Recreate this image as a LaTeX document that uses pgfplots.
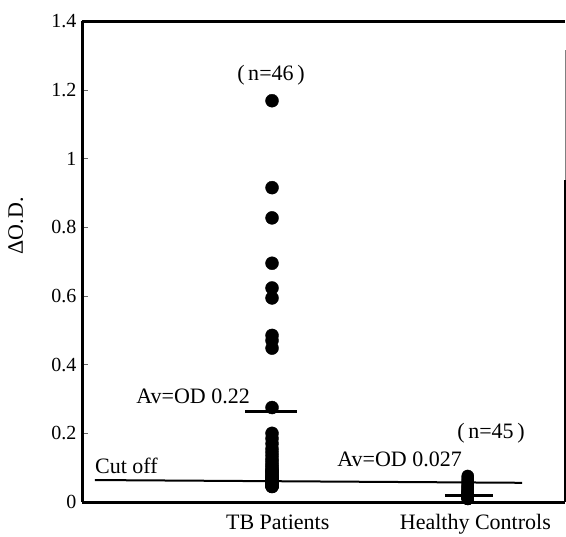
\documentclass[border=0pt]{standalone}
\usepackage{pgfplots}
\pgfplotsset{compat=1.18}
\usepackage{fontspec}
\setmainfont{Liberation Serif}

\pgfplotstableread{
x y
1 1.168
1 0.915
1 0.827
1 0.695
1 0.623
1 0.594
1 0.485
1 0.470
1 0.448
1 0.275
1 0.200
1 0.185
1 0.170
1 0.155
1 0.145
1 0.135
1 0.125
1 0.118
1 0.110
1 0.104
1 0.098
1 0.093
1 0.088
1 0.084
1 0.080
1 0.077
1 0.074
1 0.071
1 0.068
1 0.065
1 0.062
1 0.060
1 0.058
1 0.056
1 0.054
1 0.052
1 0.050
1 0.049
1 0.048
1 0.047
1 0.046
1 0.045
1 0.050
1 0.060
1 0.070
1 0.090
}\tbdata

\pgfplotstableread{
x y
2.03 0.076
2.03 0.072
2.03 0.068
2.03 0.064
2.03 0.060
2.03 0.057
2.03 0.054
2.03 0.051
2.03 0.048
2.03 0.046
2.03 0.044
2.03 0.042
2.03 0.040
2.03 0.038
2.03 0.036
2.03 0.034
2.03 0.032
2.03 0.031
2.03 0.030
2.03 0.029
2.03 0.028
2.03 0.027
2.03 0.026
2.03 0.025
2.03 0.024
2.03 0.023
2.03 0.022
2.03 0.021
2.03 0.020
2.03 0.019
2.03 0.018
2.03 0.017
2.03 0.016
2.03 0.015
2.03 0.014
2.03 0.013
2.03 0.012
2.03 0.011
2.03 0.010
2.03 0.009
2.03 0.009
2.03 0.010
2.03 0.012
2.03 0.015
2.03 0.020
}\hcdata

\begin{document}
\begin{tikzpicture}
\begin{axis}[
  scale only axis, width=483pt, height=481pt,
  xmin=0, xmax=2.542, ymin=0, ymax=1.4,
  clip=false,
  axis x line=bottom, axis y line=left,
  axis line style={-, line width=3pt},
  xtick={1.03,2.07}, xticklabels={TB Patients,Healthy Controls},
  major x tick style={draw=none},
  ytick={0,0.2,0.4,0.6,0.8,1,1.2,1.4},
  yticklabels={0,0.2,0.4,0.6,0.8,1,1.2,1.4},
  tick align=inside, major tick length=6pt,
  major y tick style={thin, black!60},
  /pgf/number format/assume math mode=true,
  ticklabel style={font=\fontsize{20}{24}\selectfont},
  xticklabel style={font=\fontsize{22}{26}\selectfont, yshift=-9pt},
  yticklabel style={xshift=-2pt},
]
% frame top and right
\draw[line width=3pt] (rel axis cs:0,1) -- (rel axis cs:1,1);
\draw[line width=1.5pt] (rel axis cs:1,0) -- (rel axis cs:1,0.67);
\draw[line width=0.6pt, black!50] (rel axis cs:1,0.67) -- (rel axis cs:1,0.94);

% cut off line and means
\addplot[black, line width=2pt] coordinates {(0.068,0.064) (2.316,0.056)};
\addplot[black, line width=2.5pt] coordinates {(0.858,0.263) (1.132,0.263)};
\addplot[black, line width=2.5pt] coordinates {(1.910,0.019) (2.163,0.019)};

\addplot[only marks, mark=*, mark size=6.5pt, black] table[x=x,y=y] {\tbdata};
\addplot[only marks, mark=*, mark size=6pt, black] table[x=x,y=y] {\hcdata};

\begin{scope}[font=\fontsize{22}{26}\selectfont]
\node[anchor=base west, inner sep=0] at (axis cs:0.068,0.084) {Cut off};
\node[anchor=base east, inner sep=0] at (axis cs:0.884,0.288) {Av=OD 0.22};
\node[anchor=base east, inner sep=0] at (axis cs:2.0,0.102) {Av=OD 0.027};
\node[anchor=base west, inner sep=0] at (axis cs:0.816,1.228) {(\,n=46\,)};
\node[anchor=base west, inner sep=0] at (axis cs:1.974,0.186) {(\,n=45\,)};
\node[rotate=90] at (rel axis cs:-0.137,0.574) {ΔO.D.};
\end{scope}
\coordinate (bl) at (rel axis cs:-0.1698,-0.0725);
\coordinate (tr) at (rel axis cs:1.002,1.0437);
\end{axis}
\pgfresetboundingbox
\path[use as bounding box] (bl) rectangle (tr);
\end{tikzpicture}
\end{document}
